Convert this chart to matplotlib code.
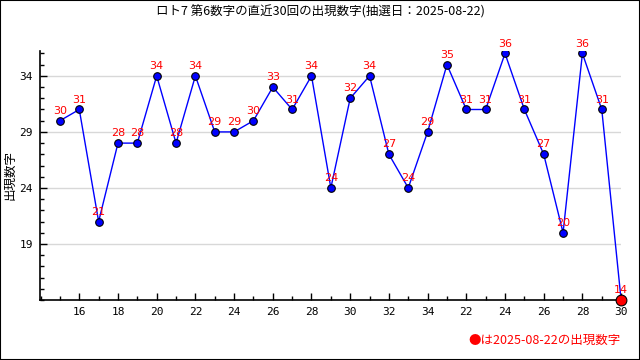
import matplotlib
matplotlib.use("Agg")
import matplotlib.pyplot as plt
from matplotlib.ticker import MultipleLocator, FixedLocator

plt.rcParams['font.family'] = ['Noto Sans CJK JP', 'DejaVu Sans']

values = [30, 31, 21, 28, 28, 34, 28, 34, 29, 29, 30, 33, 31, 34, 24,
          32, 34, 27, 24, 29, 35, 31, 31, 36, 31, 27, 20, 36, 31, 14]
tick_labels = ["16", "18", "20", "22", "24", "26", "28", "30", "32", "34",
               "22", "24", "26", "28", "30"]
title = "ロト7 第6数字の直近30回の出現数字(抽選日：2025-08-22)"
ylabel = "出現数字"
note = "●は2025-08-22の出現数字"

fig = plt.figure(figsize=(6.4, 3.6), dpi=100)
ax = fig.add_axes([0.0625, 0.1667, 0.908, 0.691])

xs = list(range(len(values)))
ax.plot(xs, values, color='#0000ff', lw=1, zorder=2)
ax.scatter(xs[:-1], values[:-1], s=30, facecolor='#0000ff', edgecolor='black',
           linewidth=0.8, zorder=3)
ax.scatter([xs[-1]], [values[-1]], s=60, facecolor='#ff0000', edgecolor='black',
           linewidth=0.8, zorder=4, clip_on=False)
for x, v in zip(xs, values):
    ax.annotate(str(v), (x, v), xytext=(0, 3.5), textcoords='offset points',
                ha='center', va='bottom', color='#ff0000', fontsize=8,
                family=['DejaVu Sans'], zorder=5, annotation_clip=False)

ax.set_xlim(-1.03, 29)
ax.set_ylim(14, 36.2)
ax.xaxis.set_major_locator(FixedLocator(list(range(1, 30, 2))))
ax.set_xticklabels(tick_labels)
ax.xaxis.set_minor_locator(MultipleLocator(1))
ax.yaxis.set_major_locator(FixedLocator([19, 24, 29, 34]))
ax.yaxis.set_minor_locator(MultipleLocator(1))
ax.tick_params(axis='both', which='both', direction='in', labelsize=8,
               width=1, color='black')
ax.tick_params(axis='both', which='major', length=5, pad=5)
ax.tick_params(axis='both', which='minor', length=3)
for lbl in ax.get_xticklabels() + ax.get_yticklabels():
    lbl.set_family(['DejaVu Sans Mono'])

ax.grid(axis='y', which='major', color='#d8d8d8', lw=1, zorder=0)
ax.spines['top'].set_visible(False)
ax.spines['right'].set_visible(False)
ax.spines['left'].set_linewidth(1.2)
ax.spines['bottom'].set_linewidth(1.2)

fig.text(10 / 640, 0.514, ylabel, rotation=90, ha='center', va='center', fontsize=9)
fig.text(0.5, 0.967, title, ha='center', va='center', fontsize=9)
fig.text(0.97, 0.055, note, ha='right', va='center', fontsize=9, color='#ff0000')

border = plt.Rectangle((0, 0), 1, 1, transform=fig.transFigure, fill=False,
                       edgecolor='black', lw=1.5)
fig.patches.append(border)

fig.savefig('out.png', dpi=100)
